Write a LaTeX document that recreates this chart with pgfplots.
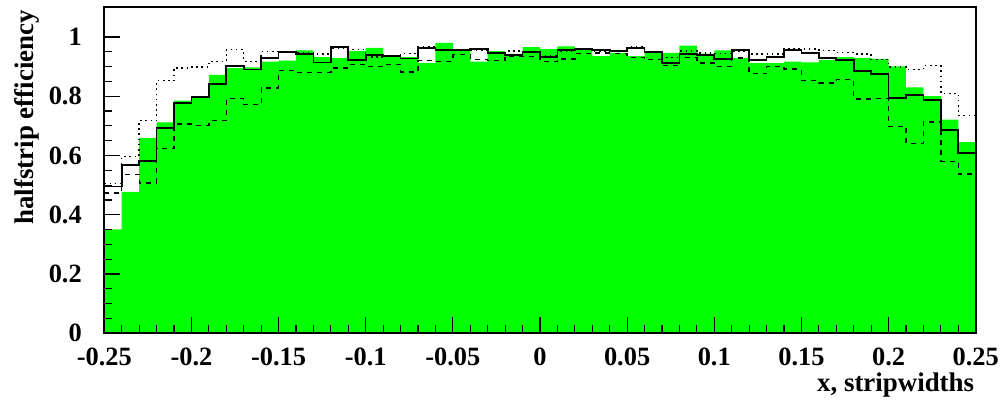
\documentclass[border=0pt]{standalone}
\usepackage{pgfplots}
\usepackage{pgfplotstable}
\pgfplotsset{compat=1.18}
\usepackage{fontspec}
\setmainfont{Liberation Serif}
\definecolor{rootgreen}{RGB}{0,255,0}
\pgfplotstableread{
x G S D H
-0.25 0.351 0.495 0.506 0.473
-0.24 0.477 0.569 0.597 0.537
-0.23 0.659 0.582 0.718 0.507
-0.22 0.712 0.693 0.852 0.623
-0.21 0.785 0.777 0.895 0.706
-0.20 0.794 0.797 0.898 0.702
-0.19 0.872 0.842 0.917 0.717
-0.18 0.895 0.901 0.957 0.792
-0.17 0.897 0.890 0.918 0.771
-0.16 0.917 0.928 0.950 0.828
-0.15 0.920 0.950 0.950 0.887
-0.14 0.955 0.943 0.948 0.881
-0.13 0.932 0.914 0.943 0.881
-0.12 0.929 0.965 0.960 0.895
-0.11 0.952 0.923 0.957 0.907
-0.10 0.963 0.940 0.932 0.901
-0.09 0.935 0.937 0.937 0.907
-0.08 0.932 0.927 0.944 0.882
-0.07 0.912 0.963 0.968 0.920
-0.06 0.980 0.957 0.957 0.917
-0.05 0.955 0.957 0.957 0.940
-0.04 0.917 0.959 0.954 0.923
-0.03 0.952 0.946 0.946 0.920
-0.02 0.943 0.940 0.952 0.935
-0.01 0.966 0.949 0.949 0.935
0.00 0.959 0.932 0.935 0.917
0.01 0.968 0.955 0.952 0.926
0.02 0.957 0.959 0.957 0.943
0.03 0.935 0.955 0.952 0.946
0.04 0.946 0.952 0.952 0.944
0.05 0.935 0.963 0.968 0.930
0.06 0.952 0.949 0.949 0.923
0.07 0.946 0.912 0.930 0.904
0.08 0.971 0.943 0.952 0.930
0.09 0.944 0.940 0.946 0.912
0.10 0.955 0.926 0.944 0.901
0.11 0.929 0.957 0.952 0.929
0.12 0.912 0.923 0.943 0.876
0.13 0.912 0.932 0.943 0.901
0.14 0.917 0.955 0.959 0.892
0.15 0.914 0.946 0.959 0.852
0.16 0.923 0.928 0.954 0.845
0.17 0.932 0.923 0.948 0.856
0.18 0.929 0.886 0.943 0.791
0.19 0.926 0.875 0.923 0.792
0.20 0.901 0.794 0.898 0.698
0.21 0.830 0.803 0.890 0.640
0.22 0.800 0.788 0.903 0.713
0.23 0.721 0.687 0.809 0.580
0.24 0.645 0.608 0.735 0.538
0.25 0.645 0.608 0.735 0.538
}\hist
\begin{document}
\begin{tikzpicture}
\useasboundingbox (0,0) rectangle (1003bp,401bp);
\begin{axis}[
  at={(104.3bp,67.7bp)}, anchor=south west,
  scale only axis, width=871.4bp, height=326bp,
  xmin=-0.25, xmax=0.25, ymin=0, ymax=1.1,
  axis on top,
  axis line style={line width=1.6bp, black},
  tick pos=left, tick align=inside,
  xtick={-0.25,-0.2,-0.15,-0.1,-0.05,0,0.05,0.1,0.15,0.2,0.25},
  xticklabels={-0.25,-0.2,-0.15,-0.1,-0.05,0,0.05,0.1,0.15,0.2,0.25},
  ytick={0,0.2,0.4,0.6,0.8,1},
  yticklabels={0,0.2,0.4,0.6,0.8,1},
  minor x tick num=4, minor y tick num=3,
  major tick length=16bp, minor tick length=8bp,
  every tick/.style={black, line width=1.2bp},
  /pgf/number format/assume math mode=true,
  xticklabel style={font=\fontsize{26.5}{30}\selectfont\bfseries, inner sep=0pt, anchor=north, yshift=-14.7bp},
  yticklabel style={font=\fontsize{26.5}{30}\selectfont\bfseries, inner sep=0pt, anchor=east, xshift=-22.3bp},
  xlabel={x, stripwidths},
  ylabel={halfstrip efficiency},
  xlabel style={font=\fontsize{27}{30}\selectfont\bfseries, inner sep=0pt, at={(axis description cs:0.99839,-0.18006)}, anchor=base east},
  ylabel style={font=\fontsize{27}{30}\selectfont\bfseries, inner sep=0pt, at={(axis description cs:-0.0818,0.9917)}, anchor=base east},
]
\addplot[fill=rootgreen, draw=none, const plot mark left] table[x=x, y=G] {\hist} \closedcycle;
\addplot[black, line width=1.4bp, dotted, dash pattern=on 1.6bp off 3.6bp, const plot mark left] table[x=x, y=D] {\hist};
\addplot[black, line width=1.3bp, dash pattern=on 5bp off 5bp, const plot mark left] table[x=x, y=H] {\hist};
\addplot[black, line width=1.8bp, const plot mark left] table[x=x, y=S] {\hist};
\end{axis}
\end{tikzpicture}
\end{document}
